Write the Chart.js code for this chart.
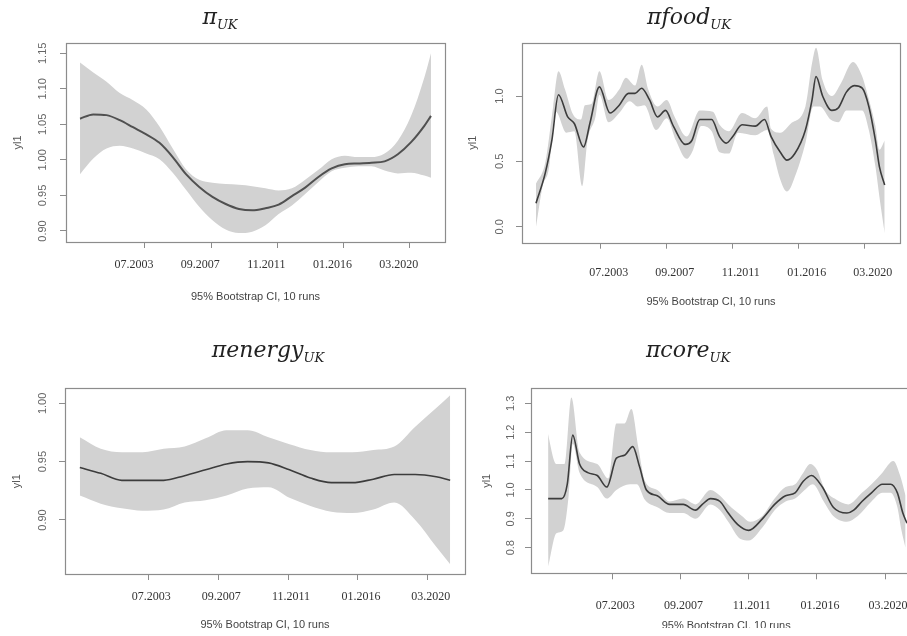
<!DOCTYPE html>
<html>
<head>
<meta charset="utf-8">
<script src="https://cdn.jsdelivr.net/npm/chart.js@4.4.1/dist/chart.umd.min.js"></script>
<style>
  html, body { margin: 0; padding: 0; background: #fff; }
  body { position: relative; width: 907px; height: 636px; overflow: hidden; }
  canvas { position: absolute; }
  .ttl { position: absolute; transform: translateX(-50%); font-family: 'DejaVu Serif', serif; font-style: italic; font-size: 22px; color: #222; white-space: nowrap; line-height: 1; }
  .ttl sub { font-size: 13px; vertical-align: -5px; }
</style>
</head>
<body>
<canvas id="c-uk" width="460" height="310" style="left:0;top:0"></canvas>
<canvas id="c-food" width="457" height="310" style="left:450px;top:0"></canvas>
<canvas id="c-energy" width="470" height="316" style="left:0;top:320px"></canvas>
<canvas id="c-core" width="480" height="308" style="left:450px;top:320px"></canvas>
<div class="ttl" style="left:220px;top:6px">π<sub>UK</sub></div>
<div class="ttl" style="left:689px;top:6px">πfood<sub>UK</sub></div>
<div class="ttl" style="left:268px;top:339px">πenergy<sub>UK</sub></div>
<div class="ttl" style="left:688px;top:339px">πcore<sub>UK</sub></div>
<script>
// ── x axis: month index from the first observation ──────────────────────────
const xTickMonths = [49, 99, 149, 199, 249];
const xTickLabels = ['07.2003', '09.2007', '11.2011', '01.2016', '03.2020'];
const xTitle = '95% Bootstrap CI, 10 runs';
const yTitle = 'yl1';

// ── π UK (headline) ─────────────────────────────────────────────────────────
const ukM    = [0, 10, 20, 30, 40, 50, 60, 70, 80, 90, 100, 110, 120, 130, 140, 150, 160, 170, 180, 190, 200, 210, 220, 230, 240, 250, 260, 265];
const ukMean = [1.058, 1.064, 1.063, 1.056, 1.046, 1.036, 1.024, 1.004, 0.980, 0.962, 0.948, 0.938, 0.931, 0.929, 0.932, 0.937, 0.949, 0.961, 0.976, 0.988, 0.994, 0.995, 0.996, 0.998, 1.008, 1.025, 1.048, 1.062];
const ukUp   = [1.137, 1.123, 1.110, 1.094, 1.084, 1.071, 1.047, 1.016, 0.987, 0.972, 0.968, 0.966, 0.965, 0.963, 0.960, 0.957, 0.960, 0.972, 0.986, 1.001, 1.006, 1.004, 1.004, 1.009, 1.027, 1.062, 1.116, 1.150];
const ukLow  = [0.980, 1.002, 1.016, 1.020, 1.016, 1.009, 1.001, 0.982, 0.958, 0.934, 0.915, 0.902, 0.897, 0.899, 0.908, 0.924, 0.936, 0.952, 0.969, 0.984, 0.989, 0.991, 0.991, 0.985, 0.981, 0.982, 0.978, 0.975];
const ukTicks = [0.90, 0.95, 1.00, 1.05, 1.10, 1.15];
const ukTickLabels = ['0.90', '0.95', '1.00', '1.05', '1.10', '1.15'];

// ── π food UK ───────────────────────────────────────────────────────────────
const foodMeanM = [0, 7, 12, 17, 24, 29, 36, 41, 48, 56, 63, 70, 75, 80, 86, 92, 98, 104, 113, 118, 124, 133, 139, 144, 149, 156, 166, 173, 178, 185, 190, 196, 204, 209, 212, 217, 224, 229, 235, 241, 247, 252, 257, 260, 264];
const foodMean  = [0.18, 0.41, 0.66, 1.01, 0.84, 0.79, 0.61, 0.80, 1.07, 0.87, 0.93, 1.02, 1.02, 1.06, 0.97, 0.84, 0.89, 0.77, 0.63, 0.66, 0.82, 0.82, 0.69, 0.64, 0.69, 0.78, 0.77, 0.82, 0.69, 0.57, 0.51, 0.56, 0.74, 0.97, 1.15, 1.00, 0.89, 0.91, 1.03, 1.08, 1.06, 0.92, 0.66, 0.46, 0.32];
const foodUpM   = [0, 7, 13, 17, 22, 28, 34, 37, 42, 48, 55, 63, 68, 75, 80, 85, 92, 99, 105, 114, 124, 134, 139, 146, 156, 166, 175, 178, 185, 193, 204, 209, 212, 217, 224, 231, 240, 247, 250, 257, 260, 264];
const foodUp    = [0.33, 0.49, 0.92, 1.19, 1.05, 0.86, 0.82, 0.93, 0.94, 1.19, 0.97, 1.05, 1.14, 1.08, 1.24, 1.05, 0.92, 0.97, 0.84, 0.69, 0.89, 0.88, 0.78, 0.73, 0.87, 0.83, 0.92, 0.75, 0.72, 0.79, 0.92, 1.25, 1.37, 1.12, 1.00, 1.10, 1.26, 1.15, 1.05, 0.77, 0.59, 0.66];
const foodLowM  = [0, 5, 10, 13, 15, 23, 29, 35, 39, 45, 48, 55, 63, 71, 77, 82, 91, 99, 106, 114, 119, 125, 133, 139, 146, 153, 166, 175, 180, 185, 190, 197, 204, 210, 215, 223, 229, 235, 247, 252, 257, 260, 264];
const foodLow   = [0.00, 0.31, 0.46, 0.79, 0.88, 0.72, 0.73, 0.31, 0.66, 0.84, 1.01, 0.80, 0.87, 0.96, 0.92, 0.93, 0.74, 0.83, 0.66, 0.52, 0.59, 0.77, 0.73, 0.57, 0.56, 0.72, 0.70, 0.74, 0.55, 0.36, 0.27, 0.41, 0.64, 0.92, 0.92, 0.82, 0.80, 0.89, 0.89, 0.74, 0.46, 0.23, -0.05];
const foodTicks = [0, 0.5, 1.0];
const foodTickLabels = ['0.0', '0.5', '1.0'];

// ── π energy UK ─────────────────────────────────────────────────────────────
const enM    = [0, 15, 30, 45, 60, 75, 90, 105, 120, 135, 150, 165, 180, 195, 210, 225, 240, 255, 265];
const enMean = [0.945, 0.940, 0.934, 0.934, 0.934, 0.938, 0.943, 0.948, 0.950, 0.949, 0.943, 0.936, 0.932, 0.932, 0.935, 0.939, 0.939, 0.937, 0.934];
const enUp   = [0.971, 0.961, 0.958, 0.958, 0.961, 0.963, 0.970, 0.977, 0.977, 0.971, 0.965, 0.960, 0.958, 0.958, 0.960, 0.963, 0.980, 0.996, 1.007];
const enLow  = [0.921, 0.914, 0.910, 0.908, 0.909, 0.915, 0.917, 0.921, 0.927, 0.928, 0.919, 0.912, 0.907, 0.906, 0.909, 0.915, 0.900, 0.877, 0.862];
const enTicks = [0.90, 0.95, 1.00];
const enTickLabels = ['0.90', '0.95', '1.00'];

// ── π core UK ───────────────────────────────────────────────────────────────
const coreMeanM = [2, 12, 16, 20, 25, 31, 38, 45, 52, 58, 64, 69, 74, 82, 91, 101, 110, 115, 121, 128, 134, 141, 149, 159, 168, 176, 183, 189, 195, 203, 211, 221, 226, 232, 239, 247, 253, 258, 262, 265];
const coreMean  = [0.97, 0.97, 1.02, 1.19, 1.09, 1.06, 1.05, 1.01, 1.11, 1.12, 1.15, 1.08, 1.00, 0.98, 0.95, 0.95, 0.93, 0.95, 0.97, 0.96, 0.92, 0.88, 0.86, 0.90, 0.95, 0.98, 0.99, 1.03, 1.05, 1.01, 0.94, 0.92, 0.93, 0.96, 0.99, 1.02, 1.02, 0.99, 0.92, 0.885];
const coreUpM   = [1, 8, 14, 19, 25, 38, 46, 52, 58, 63, 68, 73, 82, 91, 101, 110, 121, 128, 134, 144, 150, 159, 168, 176, 183, 189, 194, 199, 205, 212, 222, 232, 239, 247, 255, 260, 264];
const coreUp    = [1.21, 1.09, 1.09, 1.32, 1.13, 1.09, 1.04, 1.23, 1.23, 1.28, 1.15, 1.03, 1.00, 0.96, 0.97, 0.95, 1.00, 0.98, 0.95, 0.91, 0.89, 0.91, 0.97, 1.01, 1.02, 1.06, 1.09, 1.07, 1.00, 0.97, 0.95, 0.99, 1.02, 1.06, 1.10, 1.05, 0.98];
const coreLowM  = [2, 8, 13, 17, 20, 25, 38, 45, 52, 62, 67, 73, 82, 91, 101, 110, 121, 128, 134, 143, 149, 159, 168, 176, 183, 190, 196, 204, 211, 221, 229, 239, 247, 253, 258, 261, 265];
const coreLow   = [0.735, 0.85, 0.86, 0.98, 1.16, 1.06, 1.01, 0.97, 1.00, 1.02, 1.02, 0.965, 0.94, 0.92, 0.92, 0.90, 0.95, 0.93, 0.89, 0.83, 0.825, 0.87, 0.93, 0.96, 0.97, 1.00, 1.02, 0.96, 0.91, 0.89, 0.91, 0.96, 0.99, 0.99, 0.94, 0.86, 0.78];
const coreTicks = [0.8, 0.9, 1.0, 1.1, 1.2, 1.3];
const coreTickLabels = ['0.8', '0.9', '1.0', '1.1', '1.2', '1.3'];

// ── styling ─────────────────────────────────────────────────────────────────
const BAND = '#d2d2d2';
const LINE = '#3c3c3c';
const AXIS = '#8c8c8c';
const SANS = "'Liberation Sans', Arial, sans-serif";
const SERIF = "'Liberation Serif', 'Times New Roman', serif";

const zip = (xs, ys) => xs.map((x, i) => ({ x, y: ys[i] }));

// R-style box round the plot region
const frame = {
  id: 'frame',
  afterDatasetsDraw(chart) {
    const { ctx, chartArea: a } = chart;
    ctx.save();
    ctx.strokeStyle = AXIS;
    ctx.lineWidth = 1.2;
    ctx.strokeRect(Math.round(a.left) + 0.5, Math.round(a.top) + 0.5, Math.round(a.right - a.left), Math.round(a.bottom - a.top));
    ctx.restore();
  }
};

function makePanel(id, p) {
  const canvas = document.getElementById(id);
  return new Chart(canvas.getContext('2d'), {
    type: 'line',
    data: {
      datasets: [
        // mean first so it is drawn over the bootstrap band
        { data: zip(p.meanM, p.mean), borderColor: p.lineColor || LINE, borderWidth: p.lw || 1.6, fill: false, pointRadius: 0, cubicInterpolationMode: 'monotone', order: 0 },
        { data: zip(p.upM, p.up), borderColor: 'rgba(0,0,0,0)', borderWidth: 0, backgroundColor: BAND, fill: '+1', pointRadius: 0, cubicInterpolationMode: 'monotone', order: 1 },
        { data: zip(p.lowM, p.low), borderColor: 'rgba(0,0,0,0)', borderWidth: 0, fill: false, pointRadius: 0, cubicInterpolationMode: 'monotone', order: 2 }
      ]
    },
    options: {
      responsive: false, animation: false, events: [],
      layout: { padding: p.pad },
      plugins: { legend: { display: false }, tooltip: { enabled: false }, filler: { drawTime: 'beforeDatasetsDraw' } },
      scales: {
        x: {
          type: 'linear', bounds: 'data', min: -10.6, max: 275.6,
          afterBuildTicks: s => { s.ticks = xTickMonths.map(v => ({ value: v })); },
          afterFit: s => { s.height = p.xh; s.paddingLeft = 0; s.paddingRight = 0; },
          grid: { drawOnChartArea: false, tickLength: 6, tickColor: AXIS, lineWidth: 1 },
          border: { display: false },
          ticks: { autoSkip: false, minRotation: 0, maxRotation: 0, padding: p.xPad, labelOffset: p.xOff, color: '#333',
            font: { family: SERIF, size: 12 }, callback: (v, i) => xTickLabels[i] },
          title: { display: true, text: xTitle, color: '#444', font: { family: SANS, size: 11 }, padding: { top: 0, bottom: p.tPad } }
        },
        y: {
          type: 'linear', bounds: 'data', min: p.yMin, max: p.yMax,
          afterBuildTicks: s => { s.ticks = p.yTicks.map(v => ({ value: v })); },
          afterFit: s => { s.width = p.yw; s.paddingTop = 0; s.paddingBottom = 0; },
          grid: { drawOnChartArea: false, tickLength: 6, tickColor: AXIS, lineWidth: 1 },
          border: { display: false },
          ticks: { autoSkip: false, minRotation: 90, maxRotation: 90, crossAlign: 'center', padding: p.yPad, color: '#666',
            font: { family: SANS, size: 11 }, callback: (v, i) => p.yLabels[i] },
          title: { display: true, text: yTitle, color: '#555', font: { family: SANS, size: 11 }, padding: { top: p.ytPad, bottom: 0 } }
        }
      }
    },
    plugins: [frame]
  });
}

makePanel('c-uk', {
  meanM: ukM, mean: ukMean, upM: ukM, up: ukUp, lowM: ukM, low: ukLow,
  yTicks: ukTicks, yLabels: ukTickLabels, yMin: 0.8845, yMax: 1.1645,
  pad: { left: 0, right: 15, top: 43, bottom: 0 }, yw: 66, xh: 68,
  xPad: 10, xOff: -11, tPad: 6, yPad: 6.3, ytPad: 11, lw: 2, lineColor: '#505050'
});

makePanel('c-food', {
  meanM: foodMeanM, mean: foodMean, upM: foodUpM, up: foodUp, lowM: foodLowM, low: foodLow,
  yTicks: foodTicks, yLabels: foodTickLabels, yMin: -0.122, yMax: 1.408,
  pad: { left: 0, right: 7, top: 42.7, bottom: 0 }, yw: 72, xh: 67.3,
  xPad: 17, xOff: 8, tPad: 1.4, yPad: 8.3, ytPad: 16.4
});

makePanel('c-energy', {
  meanM: enM, mean: enMean, upM: enM, up: enUp, lowM: enM, low: enLow,
  yTicks: enTicks, yLabels: enTickLabels, yMin: 0.8537, yMax: 1.0129,
  pad: { left: 0, right: 5, top: 68.3, bottom: 0 }, yw: 65, xh: 62,
  xPad: 10, xOff: 3, tPad: 4.4, yPad: 5.3, ytPad: 10
});

// the source figure is cropped just below this panel, cutting its axis title
makePanel('c-core', {
  meanM: coreMeanM, mean: coreMean, upM: coreUpM, up: coreUp, lowM: coreLowM, low: coreLow,
  yTicks: coreTicks, yLabels: coreTickLabels, yMin: 0.7114, yMax: 1.352,
  pad: { left: 0, right: 8.6, top: 68.3, bottom: 0 }, yw: 81, xh: 54.7,
  xPad: 19.5, xOff: 3, tPad: -5, yPad: 6.3, ytPad: 30
});
</script>
</body>
</html>
